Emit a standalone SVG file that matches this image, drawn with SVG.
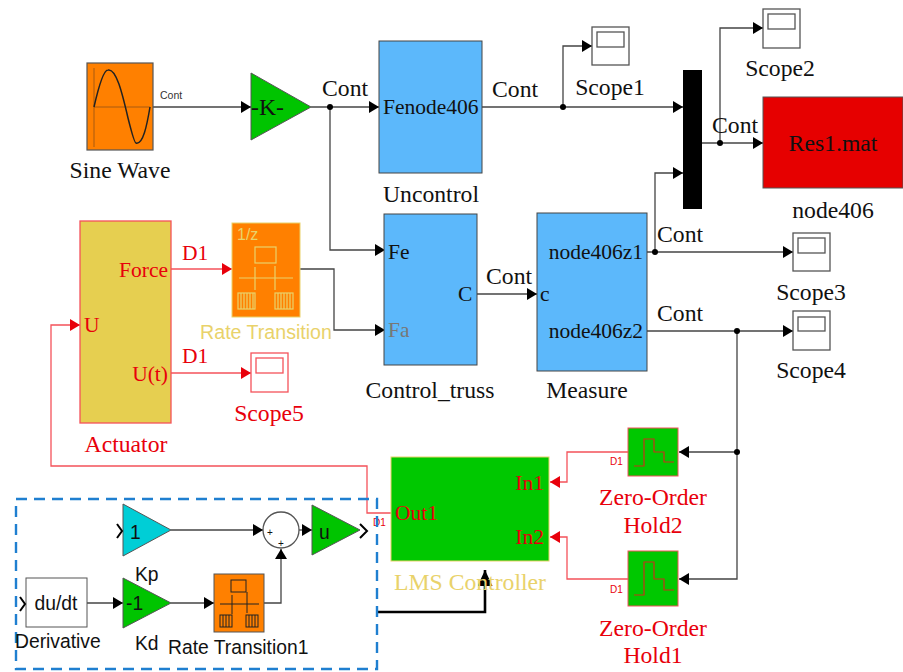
<svg xmlns="http://www.w3.org/2000/svg" width="903" height="672" viewBox="0 0 903 672">
<style>
text{font-family:"Liberation Serif","Times New Roman",serif;font-size:23.7px;fill:#111}
.p{font-size:21.5px}
.r{fill:#e8000b}.m{text-anchor:middle}.e{text-anchor:end}
.s{font-family:"Liberation Sans",Arial,sans-serif;font-size:19.3px}
.y{fill:#e9d26a}
.c{fill:none;stroke:#444;stroke-width:1.3}
.cr{fill:none;stroke:#f4525a;stroke-width:1.3}
.b{fill:#5cb8fb;stroke:#444;stroke-width:1}
.sc{fill:#fff;stroke:#555;stroke-width:1.3}
.scr{fill:#fff;stroke:#f4525a;stroke-width:1.3}
</style>
<defs>
<marker id="a" markerUnits="userSpaceOnUse" markerWidth="11" markerHeight="12" refX="10" refY="6" orient="auto"><path d="M0 0L10 6L0 12z" fill="#000"/></marker>
<marker id="ar" markerUnits="userSpaceOnUse" markerWidth="11" markerHeight="12" refX="10" refY="6" orient="auto"><path d="M0 0L10 6L0 12z" fill="#e8000b"/></marker>
<marker id="ab" markerUnits="userSpaceOnUse" markerWidth="17" markerHeight="15" refX="16" refY="7.5" orient="auto"><path d="M0 0L16 7.5L0 15z" fill="#000"/></marker>
</defs>

<g id="connectors">
<path class="c" marker-end="url(#a)" d="M153 107H251"/>
<path class="c" marker-end="url(#a)" d="M311 107H379"/>
<path class="c" marker-end="url(#a)" d="M330 107V250H385"/>
<path class="c" marker-end="url(#a)" d="M482 107H683"/>
<path class="c" marker-end="url(#a)" d="M563 107V46H592"/>
<path class="c" marker-end="url(#a)" d="M702 143H763"/>
<path class="c" marker-end="url(#a)" d="M720 143V28H763"/>
<path class="c" marker-end="url(#a)" d="M655 252V173H683"/>
<path class="c" marker-end="url(#a)" d="M647 252H793"/>
<path class="c" marker-end="url(#a)" d="M647 331H793"/>
<path class="c" marker-end="url(#a)" d="M737 331V452H679"/>
<path class="c" marker-end="url(#a)" d="M737 452V579H679"/>
<path class="c" marker-end="url(#a)" d="M477 294H537"/>
<path class="c" marker-end="url(#a)" d="M300 269H334V330H385"/>
<path class="cr" marker-end="url(#ar)" d="M171 269H232"/>
<path class="cr" marker-end="url(#ar)" d="M171 373H251"/>
<path class="cr" marker-end="url(#ar)" d="M391 513H367V466H51V325H80"/>
<path class="cr" marker-end="url(#ar)" d="M628 452H567V482H550"/>
<path class="cr" marker-end="url(#ar)" d="M628 579H567V537H550"/>
<path class="c" marker-end="url(#a)" d="M171 530H263"/>
<path class="c" marker-end="url(#a)" d="M299 530H312"/>
<path class="c" marker-end="url(#a)" d="M87 603H123"/>
<path class="c" marker-end="url(#a)" d="M171 603H214"/>
<path class="c" marker-end="url(#a)" d="M264 603H281V549"/>
<path fill="none" stroke="#000" stroke-width="2.6" marker-end="url(#ab)" d="M377 612H485V570"/>
<g fill="#000"><circle cx="330" cy="107" r="3"/><circle cx="563" cy="107" r="3"/><circle cx="720" cy="143" r="3"/><circle cx="655" cy="252" r="3"/><circle cx="737" cy="331" r="3"/><circle cx="737" cy="452" r="3"/></g>
</g>

<g id="sine-wave">
<rect x="87" y="63" width="66" height="87" fill="#ff8000" stroke="#555" stroke-width="1.2"/>
<path d="M94 107H150M94 68V147" fill="none" stroke="#a85a10" stroke-width="1"/>
<path d="M94 107C99 85 104 70 108 70C116 68 122 92 128 118C133 138 135 143 136 143C143 145 147 125 150 107" fill="none" stroke="#222" stroke-width="1.5"/>
<text class="m" x="120" y="178">Sine Wave</text>
<text class="s" x="160" y="99" style="font-size:10.5px;fill:#333">Cont</text>
</g>
<g id="gain-k"><path d="M251 73V140L311 107z" fill="#00c400" stroke="#555"/><text x="251" y="115">-K-</text></g>
<text x="322" y="96">Cont</text>

<g id="uncontrol"><rect class="b" x="379" y="41" width="103" height="132"/><text class="p" x="383" y="114">Fenode406</text><text class="m" x="431" y="202">Uncontrol</text></g>
<text x="492" y="97">Cont</text>
<g id="control-truss"><rect class="b" x="384" y="214" width="93" height="151"/><text class="p" x="388" y="259">Fe</text><text class="p" x="388" y="337" style="fill:#777">Fa</text><text class="p" x="458" y="301">C</text><text class="m" x="430" y="398">Control_truss</text></g>
<text x="486" y="284">Cont</text>
<g id="measure"><rect class="b" x="537" y="213" width="110" height="158"/><text class="p" x="540" y="301">c</text><text class="p e" x="643" y="259">node406z1</text><text class="p e" x="643" y="338">node406z2</text><text class="m" x="587" y="398">Measure</text></g>
<text x="657" y="242">Cont</text><text x="657" y="321">Cont</text>
<g id="mux"><rect x="683" y="70" width="19" height="139" fill="#000"/></g>
<text x="712" y="133">Cont</text>
<g id="res1"><rect x="763" y="97" width="140" height="91" fill="#e60000" stroke="#555"/><text class="m" x="833" y="151">Res1.mat</text><text class="m" x="833" y="218">node406</text></g>

<g id="scope1"><rect class="sc" x="592" y="27" width="37" height="38"/><rect class="sc" x="597" y="32" width="27" height="15"/><text class="m" x="610" y="95">Scope1</text></g>
<g id="scope2"><rect class="sc" x="763" y="9" width="37" height="39"/><rect class="sc" x="768" y="14" width="27" height="15"/><text class="m" x="780" y="76">Scope2</text></g>
<g id="scope3"><rect class="sc" x="793" y="233" width="37" height="38"/><rect class="sc" x="798" y="238" width="27" height="15"/><text class="m" x="811" y="300">Scope3</text></g>
<g id="scope4"><rect class="sc" x="793" y="311" width="37" height="39"/><rect class="sc" x="798" y="317" width="27" height="14"/><text class="m" x="811" y="378">Scope4</text></g>

<g id="actuator"><rect x="80" y="221" width="91" height="202" fill="#e6cf50" stroke="#f4525a" stroke-width="1.3"/>
<text class="r p" x="84" y="332">U</text><text class="r p e" x="168" y="277">Force</text><text class="r p e" x="168" y="381">U(t)</text><text class="r m" x="126" y="452">Actuator</text></g>
<text class="r p" x="182" y="260">D1</text><text class="r p" x="182" y="363">D1</text>
<g id="rate-transition"><rect x="232" y="223" width="68" height="94" fill="#ff8000" stroke="#e9d26a"/>
<g fill="none" stroke="#e9d26a" stroke-width="1.2"><rect x="255" y="247" width="21" height="16"/><path d="M239 278H293M255 290V267M275 266V290"/><rect x="238" y="293" width="17" height="16"/><rect x="275" y="293" width="18" height="16"/><path d="M241 293v16M244 293v16M247 293v16M250 293v16M253 293v16M278 293v16M281 293v16M284 293v16M287 293v16M290 293v16"/></g>
<text class="s y" x="237" y="240" style="font-size:16px">1/z</text>
<text class="s y m" x="266" y="339" style="font-size:19.6px">Rate Transition</text></g>
<g id="scope5"><rect class="scr" x="251" y="353" width="37" height="39"/><rect class="scr" x="256" y="358" width="27" height="15"/><text class="r m" x="269" y="421">Scope5</text></g>

<g id="lms-controller"><rect x="391" y="457" width="158" height="104" fill="#00c800" stroke="#e9d26a"/>
<text class="r p" x="395" y="520">Out1</text><text class="r p e" x="544" y="490">In1</text><text class="r p e" x="544" y="544">In2</text>
<text class="y m" x="470" y="590">LMS Controller</text></g>
<text class="s r" x="373" y="526" style="font-size:10px">D1</text>
<g id="zoh2"><rect x="628" y="428" width="50" height="48" fill="#00c800" stroke="#f4525a"/><path d="M634 466H644V439H654V452H664V462H674" fill="none" stroke="#c8301a" stroke-width="1.2"/><text class="s r" x="610" y="465" style="font-size:10px">D1</text><text class="r m" x="653" y="505">Zero-Order</text><text class="r m" x="653" y="533">Hold2</text></g>
<g id="zoh1"><rect x="628" y="551" width="50" height="55" fill="#00c800" stroke="#f4525a"/><path d="M634 595H644V562H654V579H664V590H674" fill="none" stroke="#c8301a" stroke-width="1.2"/><text class="s r" x="610" y="593" style="font-size:10px">D1</text><text class="r m" x="653" y="636">Zero-Order</text><text class="r m" x="653" y="663">Hold1</text></g>

<g id="pd-group"><rect x="16" y="499" width="361" height="170" fill="none" stroke="#1f7fd0" stroke-width="2.4" stroke-dasharray="11 7"/></g>
<g id="kp"><path d="M123 504V556L171 530z" fill="#00ced6" stroke="#555"/><path d="M117 524L122 531L117 538" fill="none" stroke="#000" stroke-width="2"/><text class="s" x="130" y="539">1</text><text class="s" x="135" y="581">Kp</text></g>
<g id="sum"><circle cx="281" cy="530" r="18" fill="#fff" stroke="#555" stroke-width="1.3"/><text class="s m" x="270" y="536" style="font-size:10px">+</text><text class="s m" x="281" y="547" style="font-size:10px">+</text></g>
<g id="u-gain"><path d="M312 505V555L360 530z" fill="#00c400" stroke="#555"/><path d="M360 524L367 531L360 538" fill="none" stroke="#000" stroke-width="2"/><text class="s" x="319" y="539">u</text></g>
<g id="derivative"><rect x="26" y="578" width="61" height="49" fill="#fff" stroke="#555"/><path d="M20 597L25 604L20 611" fill="none" stroke="#000" stroke-width="2"/><text class="s m" x="56" y="610">du/dt</text><text class="s" x="15" y="648">Derivative</text></g>
<g id="kd"><path d="M123 578V628L171 603z" fill="#00c400" stroke="#555"/><text class="s" x="126" y="610">-1</text><text class="s" x="135" y="650">Kd</text></g>
<g id="rate-transition1"><rect x="214" y="574" width="50" height="58" fill="#ff8000" stroke="#555"/>
<g fill="none" stroke="#222" stroke-width="1"><rect x="231" y="580" width="15" height="12"/><path d="M220 604H259M232 614V595M247 592V613"/><rect x="220" y="615" width="12" height="12"/><rect x="246" y="615" width="12" height="12"/><path d="M223 615v12M226 615v12M229 615v12M249 615v12M252 615v12M255 615v12"/></g>
<text class="s" x="168" y="654">Rate Transition1</text></g>
</svg>
